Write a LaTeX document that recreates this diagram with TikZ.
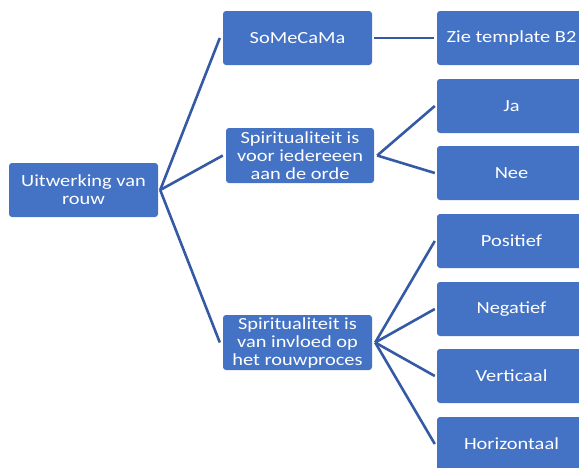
\documentclass[tikz,border=0pt]{standalone}
\usepackage{fontspec}
\setmainfont{Carlito}[FakeStretch=1.2]
\definecolor{boxblue}{RGB}{68,114,196}
\definecolor{lineblue}{RGB}{52,90,165}
\begin{document}
\begin{tikzpicture}[x=1pt,y=-1pt,
  box/.style={fill=boxblue,draw=none,rounded corners=3pt,text=white,
    align=center,inner sep=0pt,font=\fontsize{17}{18}\selectfont},
  conn/.style={draw=lineblue,line width=2.6pt}]
\useasboundingbox (0,0) rectangle (579,467);
\begin{scope}
\clip (0,0) rectangle (579,467);
\node[box,minimum width=149pt,minimum height=54pt] (root) at (83.5,190) {Uitwerking van\\rouw};
\node[box,minimum width=149pt,minimum height=54pt] (a) at (297.5,38) {SoMeCaMa};
\node[box,minimum width=148pt,minimum height=55pt] (b) at (300,155.5) {Spiritualiteit is\\voor iedereeen\\aan de orde};
\node[box,minimum width=149pt,minimum height=55pt] (c) at (297.5,342.5) {Spiritualiteit is\\van invloed op\\het rouwproces};
\node[box,minimum width=149pt,minimum height=54pt] (a1) at (511.5,38) {Zie template B2};
\node[box,minimum width=149pt,minimum height=54pt] (b1) at (511.5,106) {Ja};
\node[box,minimum width=149pt,minimum height=54pt] (b2) at (511.5,173) {Nee};
\node[box,minimum width=149pt,minimum height=54pt] (c1) at (511.5,241) {Positief};
\node[box,minimum width=149pt,minimum height=54pt] (c2) at (511.5,309) {Negatief};
\node[box,minimum width=149pt,minimum height=54pt] (c3) at (511.5,376) {Verticaal};
\node[box,minimum width=149pt,minimum height=54pt] (c4) at (511.5,444) {Horizontaal};
\end{scope}
\coordinate (rp) at ([xshift=2pt]root.east);
\draw[conn] (rp) -- ([xshift=-3pt]a.west);
\draw[conn] (rp) -- ([xshift=-3pt]b.west);
\draw[conn] (rp) -- ([xshift=-3pt]c.west);
\draw[conn] ([xshift=2pt]a.east) -- ([xshift=-3pt]a1.west);
\coordinate (bp) at ([xshift=3pt]b.east);
\draw[conn] (bp) -- ([xshift=-2pt]b1.west);
\draw[conn] (bp) -- ([xshift=-2pt]b2.west);
\coordinate (cp) at ([xshift=3pt]c.east);
\draw[conn] (cp) -- ([xshift=-2pt]c1.west);
\draw[conn] (cp) -- ([xshift=-2pt]c2.west);
\draw[conn] (cp) -- ([xshift=-2pt]c3.west);
\draw[conn] (cp) -- ([xshift=-2pt]c4.west);
\end{tikzpicture}
\end{document}
